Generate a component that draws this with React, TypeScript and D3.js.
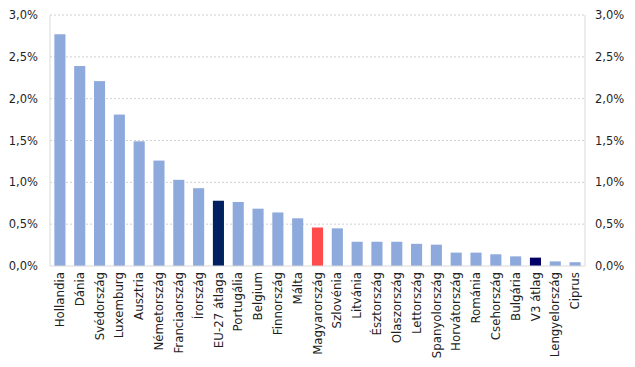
import React, { useEffect, useRef } from "react";
import * as d3 from "d3";

const countries = [
  "Hollandia", "Dánia", "Svédország", "Luxemburg", "Ausztria", "Németország",
  "Franciaország", "Írország", "EU-27 átlaga", "Portugália", "Belgium", "Finnország",
  "Málta", "Magyarország", "Szlovénia", "Litvánia", "Észtország", "Olaszország",
  "Lettország", "Spanyolország", "Horvátország", "Románia", "Csehország", "Bulgária",
  "V3 átlag", "Lengyelország", "Ciprus",
];
const values = [
  2.77, 2.39, 2.21, 1.81, 1.49, 1.26, 1.03, 0.93, 0.78, 0.765, 0.685, 0.64,
  0.57, 0.46, 0.45, 0.29, 0.29, 0.29, 0.265, 0.255, 0.16, 0.16, 0.14, 0.115,
  0.1, 0.055, 0.045,
];
const yTicks = [0, 0.5, 1, 1.5, 2, 2.5, 3];

const colorFor = (name: string) => {
  if (name === "EU-27 átlaga") return "#002060";
  if (name === "V3 átlag") return "#000066";
  if (name === "Magyarország") return "#FF4B4B";
  return "#8EA9DB";
};

const fmt = (v: number) => v.toFixed(1).replace(".", ",") + "%";

const App = () => {
  const svgRef = useRef<SVGSVGElement>(null);

  useEffect(() => {
    const svg = d3.select(svgRef.current);
    svg.selectAll("*").remove();

    const left = 50;
    const right = 585;
    const top = 15;
    const bottom = 266;

    const x = d3.scaleBand().domain(countries).range([left, right]).paddingInner(0.44).paddingOuter(0.22);
    const y = d3.scaleLinear().domain([0, 3]).range([bottom, top]);

    // grid
    svg
      .append("g")
      .selectAll("line")
      .data(yTicks.filter((t) => t > 0))
      .join("line")
      .attr("x1", left)
      .attr("x2", right)
      .attr("y1", (d) => y(d))
      .attr("y2", (d) => y(d))
      .attr("stroke", "#d0d0d0")
      .attr("stroke-dasharray", "2,2")
      .attr("stroke-width", 1);

    // axis lines
    svg.append("line").attr("x1", left).attr("x2", left).attr("y1", top).attr("y2", bottom).attr("stroke", "#d9d9d9");
    svg.append("line").attr("x1", right).attr("x2", right).attr("y1", top).attr("y2", bottom).attr("stroke", "#d9d9d9");

    // bars
    svg
      .append("g")
      .selectAll("rect")
      .data(countries.map((name, i) => ({ name, value: values[i] })))
      .join("rect")
      .attr("x", (d) => x(d.name)!)
      .attr("y", (d) => y(d.value))
      .attr("width", x.bandwidth())
      .attr("height", (d) => bottom - y(d.value))
      .attr("fill", (d) => colorFor(d.name));

    svg.append("line").attr("x1", left).attr("x2", right).attr("y1", bottom).attr("y2", bottom).attr("stroke", "#d9d9d9");

    const font = "'DejaVu Sans', Verdana, sans-serif";

    // y labels, both sides
    [{ xPos: 38, anchor: "end" }, { xPos: 595, anchor: "start" }].forEach((side) => {
      svg
        .append("g")
        .selectAll("text")
        .data(yTicks)
        .join("text")
        .attr("x", side.xPos)
        .attr("y", (d) => y(d))
        .attr("dy", "0.35em")
        .attr("text-anchor", side.anchor)
        .attr("font-family", font)
        .attr("font-size", 11.5)
        .attr("fill", "#1f1f1f")
        .text(fmt);
    });

    // x labels
    svg
      .append("g")
      .selectAll("text")
      .data(countries)
      .join("text")
      .attr("transform", (d) => `translate(${x(d)! + x.bandwidth() / 2},${bottom + 6}) rotate(-90)`)
      .attr("dy", "0.35em")
      .attr("text-anchor", "end")
      .attr("font-family", font)
      .attr("font-size", 11.8)
      .attr("fill", "#1f1f1f")
      .text((d) => d);
  }, []);

  return (
    <svg
      ref={svgRef}
      width={635}
      height={367}
      style={{ position: "absolute", left: 0, top: 0, background: "#fff" }}
    />
  );
};

export default App;
